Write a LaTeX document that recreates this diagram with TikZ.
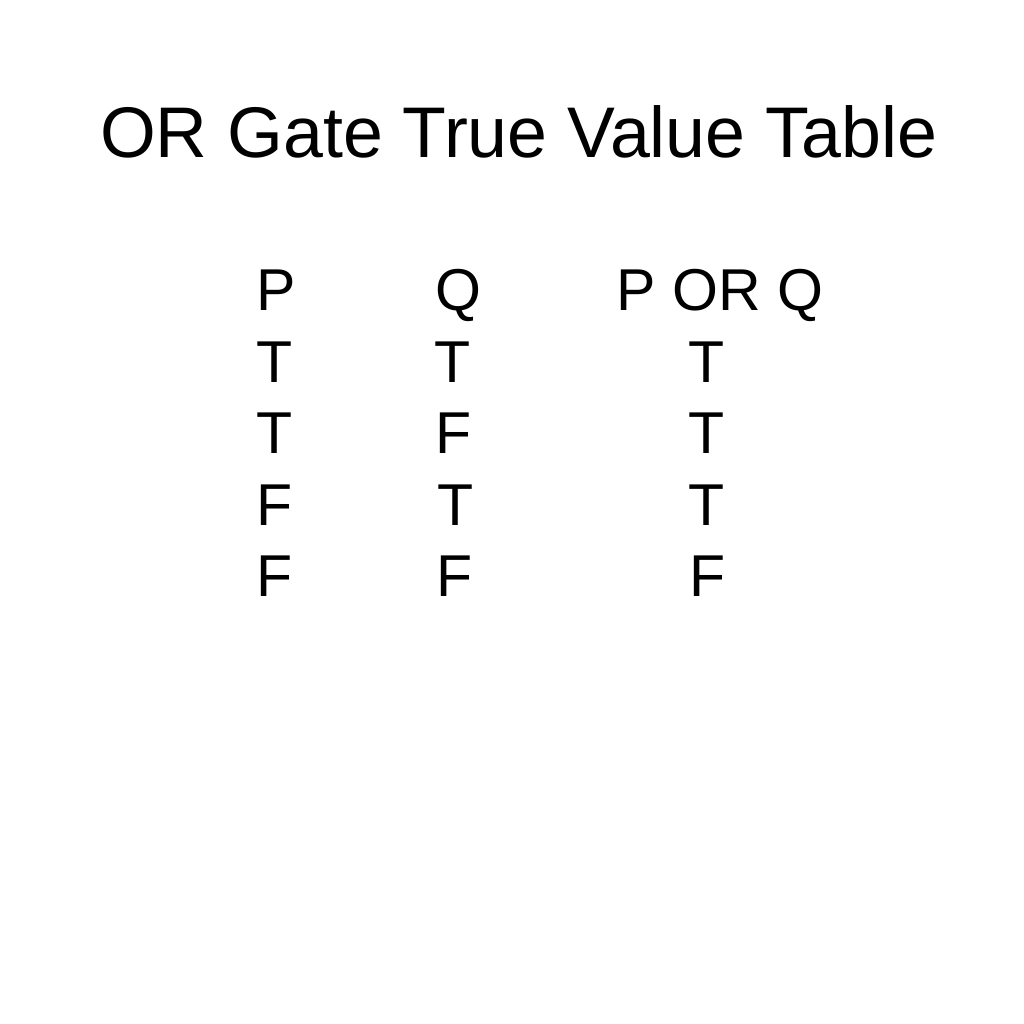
\documentclass[tikz,border=0pt]{standalone}
\usepackage{fontspec}
\setmainfont{Liberation Sans}
\begin{document}
\begin{tikzpicture}[
    cell/.style={anchor=base west, inner sep=0pt, font=\fontsize{16.8pt}{20pt}\selectfont},
    heading/.style={anchor=base, inner sep=0pt, font=\fontsize{20.4pt}{24pt}\selectfont}]
      \useasboundingbox (0,0) rectangle (10.24,10.24);
      \node[heading] (title) at (5.185,8.66) {OR Gate True Value Table};
      \node[cell] (hp) at (2.56,7.13) {P};
      \node[cell] (hq) at (4.35,7.13) {Q};
      \node[cell] (hpq) at (6.16,7.13) {P OR Q};
      \node[cell] (p1) at (2.56,6.41) {T};
      \node[cell] (q1) at (4.34,6.41) {T};
      \node[cell] (r1) at (6.88,6.41) {T};
      \node[cell] (p2) at (2.56,5.70) {T};
      \node[cell] (q2) at (4.35,5.70) {F};
      \node[cell] (r2) at (6.88,5.70) {T};
      \node[cell] (p3) at (2.56,4.98) {F};
      \node[cell] (q3) at (4.37,4.98) {T};
      \node[cell] (r3) at (6.88,4.98) {T};
      \node[cell] (p4) at (2.56,4.27) {F};
      \node[cell] (q4) at (4.36,4.27) {F};
      \node[cell] (r4) at (6.89,4.27) {F};
    \end{tikzpicture}
\end{document}
